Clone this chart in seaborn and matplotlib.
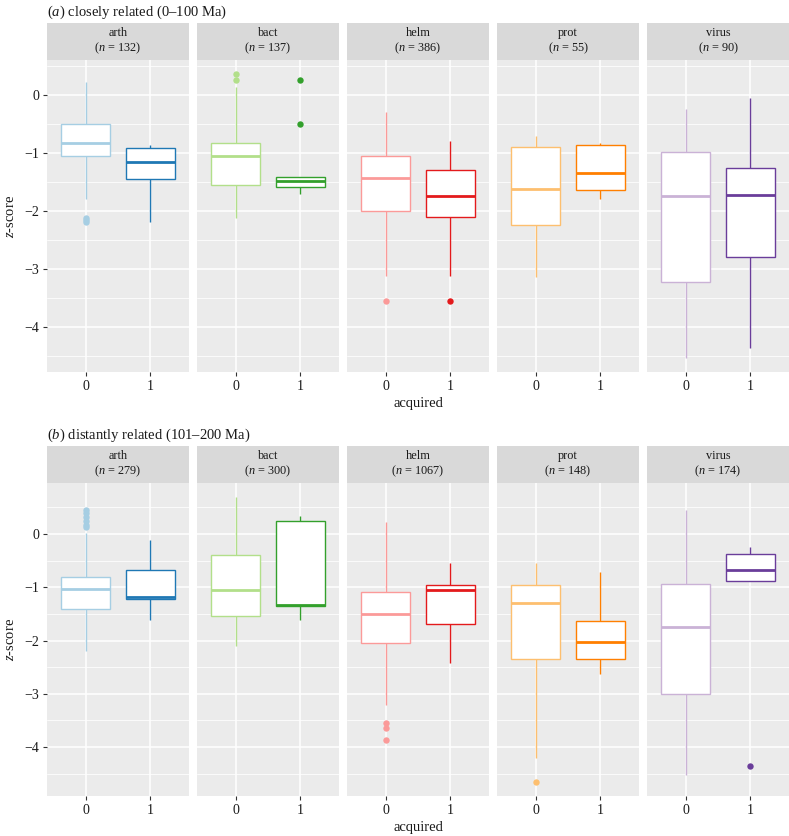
import numpy as np
import pandas as pd
import matplotlib
matplotlib.use('Agg')
import matplotlib.pyplot as plt
import seaborn as sns

# Facet groups and the two shades (acquired = 0 light, 1 dark) of the Paired palette
groups = ['arth', 'bact', 'helm', 'prot', 'virus']
levels = ['0', '1']
paired = sns.color_palette('Paired', 10)
light = [paired[0], paired[2], paired[4], paired[6], paired[8]]
dark = [paired[1], paired[3], paired[5], paired[7], paired[9]]

# (a) closely related: group sizes and five-number summaries
# each summary is [lower whisker, Q1, median, Q3, upper whisker]
close_n = [132, 137, 386, 55, 90]
close_box0 = [
    [-1.79, -1.06, -0.83, -0.50, 0.22],
    [-2.13, -1.55, -1.05, -0.83, 0.13],
    [-3.12, -2.01, -1.43, -1.05, -0.30],
    [-3.14, -2.25, -1.63, -0.90, -0.71],
    [-4.54, -3.22, -1.75, -0.99, -0.25],
]
close_box1 = [
    [-2.20, -1.45, -1.16, -0.92, -0.86],
    [-1.71, -1.59, -1.48, -1.41, -1.41],
    [-3.12, -2.11, -1.75, -1.30, -0.79],
    [-1.80, -1.65, -1.34, -0.87, -0.83],
    [-4.36, -2.80, -1.72, -1.26, -0.05],
]
close_out0 = [[-2.12, -2.16, -2.20], [0.36, 0.26], [-3.55], [], []]
close_out1 = [[], [0.25, -0.50], [-3.55], [], []]

# (b) distantly related
dist_n = [279, 300, 1067, 148, 174]
dist_box0 = [
    [-2.19, -1.41, -1.03, -0.80, 0.02],
    [-2.10, -1.54, -1.05, -0.39, 0.69],
    [-3.21, -2.05, -1.51, -1.08, 0.23],
    [-4.20, -2.35, -1.30, -0.95, -0.55],
    [-4.53, -3.01, -1.74, -0.94, 0.46],
]
dist_box1 = [
    [-1.61, -1.22, -1.19, -0.67, -0.11],
    [-1.61, -1.36, -1.34, 0.25, 0.34],
    [-2.43, -1.68, -1.05, -0.95, -0.55],
    [-2.62, -2.35, -2.02, -1.63, -0.72],
    [-0.89, -0.89, -0.67, -0.37, -0.25],
]
dist_out0 = [[0.46, 0.40, 0.33, 0.25, 0.18, 0.14], [], [-3.54, -3.65, -3.86], [-4.66], []]
dist_out1 = [[], [], [], [], [-4.35]]

yticks = [-4, -3, -2, -1, 0]

sns.set_theme(style='darkgrid', rc={'axes.facecolor': '#EBEBEB', 'grid.color': 'white'})
plt.rcParams['font.family'] = ['Liberation Serif', 'DejaVu Serif']
plt.rcParams['mathtext.fontset'] = 'custom'
plt.rcParams['mathtext.rm'] = 'Liberation Serif'
plt.rcParams['mathtext.it'] = 'Liberation Serif:italic'
plt.rcParams['axes.unicode_minus'] = True

W, H = 789, 836
fig = plt.figure(figsize=(W / 100, H / 100), dpi=100)


def px_rect(x, y, w, h):
    return [x / W, 1 - (y + h) / H, w / W, h / H]


def long_frame(box0, box1, out0, out1):
    box_rows, out_rows = [], []
    for g, b0, b1, o0, o1 in zip(groups, box0, box1, out0, out1):
        for lvl, b, o in zip(levels, [b0, b1], [o0, o1]):
            box_rows += [(g, lvl, v) for v in b]
            out_rows += [(g, lvl, v) for v in o]
    cols = ['group', 'acquired', 'z']
    return pd.DataFrame(box_rows, columns=cols), pd.DataFrame(out_rows, columns=cols)


def draw_panel(top, title, ns, box0, box1, out0, out1, ylim, plot_h):
    boxes, outs = long_frame(box0, box1, out0, out1)
    fig.text(47 / W, 1 - (top - 11) / H, title, ha='left', va='center', fontsize=10.5, color='#1A1A1A')
    for i, g in enumerate(groups):
        ax = fig.add_axes(px_rect(47 + i * 150, top + 37, 142, plot_h))
        sax = fig.add_axes(px_rect(47 + i * 150, top, 142, 37))
        for lvl, col in zip(levels, [light[i], dark[i]]):
            sub = boxes[(boxes.group == g) & (boxes.acquired == lvl)]
            sns.boxplot(data=sub, x='acquired', y='z', order=levels, color='white', saturation=1,
                        linecolor=col, linewidth=1.0, width=0.76, whis=np.inf, showcaps=False,
                        medianprops={'linewidth': 2.0}, ax=ax)
            pts = outs[(outs.group == g) & (outs.acquired == lvl)]
            if len(pts):
                sns.stripplot(data=pts, x='acquired', y='z', order=levels, jitter=False,
                              color=col, size=4.6, linewidth=0, ax=ax, zorder=5)
        ax.set_xlim(-0.6, 1.6)
        ax.set_ylim(*ylim)
        ax.set_yticks(yticks)
        ax.set_yticks(np.arange(-4.5, 1.0, 1.0), minor=True)
        ax.grid(True, which='major', color='white', linewidth=1.1)
        ax.grid(True, which='minor', axis='y', color='white', linewidth=0.55)
        ax.set_axisbelow(True)
        ax.set_xlabel('')
        ax.set_ylabel('')
        for s in ax.spines.values():
            s.set_visible(False)
        ax.tick_params(which='major', bottom=True, left=(i == 0), labelleft=(i == 0),
                       length=3, width=0.8, color='#333333', labelsize=10,
                       labelcolor='#1A1A1A', pad=2.5)
        ax.tick_params(which='minor', length=0)
        sax.set_facecolor('#D9D9D9')
        sax.set_xticks([])
        sax.set_yticks([])
        sax.grid(False)
        for s in sax.spines.values():
            s.set_visible(False)
        sax.text(0.5, 0.5, f'{g}\n($n$ = {ns[i]})', ha='center', va='center',
                 fontsize=8.8, color='#1A1A1A', linespacing=1.15, transform=sax.transAxes)
    bottom = top + 37 + plot_h
    fig.text(418 / W, 1 - (bottom + 32) / H, 'acquired', ha='center', va='center', fontsize=10.5, color='#1A1A1A')
    fig.text(10 / W, 1 - (top + 37 + plot_h / 2) / H, '$z$-score', rotation=90,
             ha='center', va='center', fontsize=10.5, color='#1A1A1A')


draw_panel(23, r'($\mathit{a}$) closely related (0–100 Ma)', close_n,
           close_box0, close_box1, close_out0, close_out1, (-4.78, 0.6), 312)
draw_panel(446, r'($\mathit{b}$) distantly related (101–200 Ma)', dist_n,
           dist_box0, dist_box1, dist_out0, dist_out1, (-4.92, 0.96), 313)

fig.savefig('out.png', dpi=100)
